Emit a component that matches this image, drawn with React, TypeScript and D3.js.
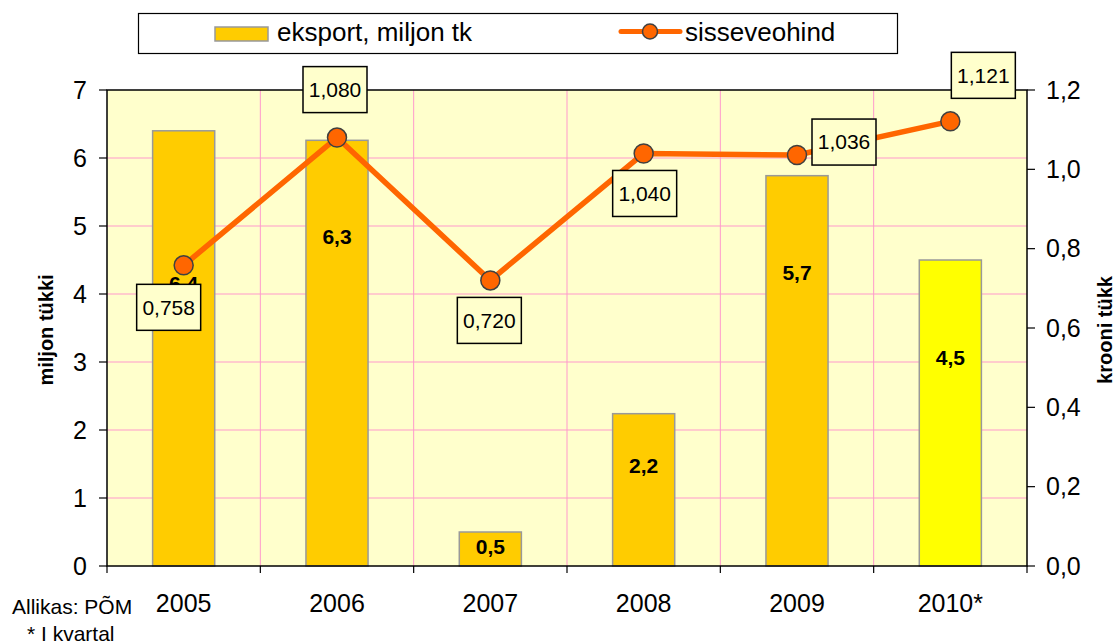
import React from "react";
import * as d3 from "d3";

const categories = ["2005", "2006", "2007", "2008", "2009", "2010*"];
const exportValues = [6.4, 6.26, 0.5, 2.24, 5.74, 4.5];
const exportLabels = ["6,4", "6,3", "0,5", "2,2", "5,7", "4,5"];
const exportLabelAt = [4.15, 4.85, 0.29, 1.47, 4.32, 3.07];
const priceValues = [0.758, 1.08, 0.72, 1.04, 1.036, 1.121];
const priceLabels = ["0,758", "1,080", "0,720", "1,040", "1,036", "1,121"];
const priceLabelOffsets: [number, number][] = [[-15, 42], [-2, -48], [-1, 40], [1, 40], [47, -13], [33, -46]];
const leftTicks = [0, 1, 2, 3, 4, 5, 6, 7];
const rightTicks = [0, 0.2, 0.4, 0.6, 0.8, 1.0, 1.2];

const W = 1116, H = 644;
const plot = { left: 107, right: 1027, top: 90, bottom: 566 };
const FONT = "'Liberation Sans', Arial, Helvetica, sans-serif";

export default function App() {
  const x = d3.scaleBand<string>().domain(categories).range([plot.left, plot.right]).paddingInner(0).paddingOuter(0);
  const yL = d3.scaleLinear().domain([0, 7]).range([plot.bottom, plot.top]);
  const yR = d3.scaleLinear().domain([0, 1.2]).range([plot.bottom, plot.top]);
  const bw = x.bandwidth() * 0.405;
  const cx = (c: string) => (x(c) as number) + x.bandwidth() / 2;
  const linePath = d3.line<number>().x((_, i) => cx(categories[i])).y((d) => yR(d))(priceValues) as string;
  const fmtR = (v: number) => v.toFixed(1).replace(".", ",");
  const boxW = 64, boxH = 46;

  return (
    <svg width={W} height={H} style={{ position: "absolute", left: 0, top: 0, background: "#fff" }} fontFamily={FONT}>
      {/* legend */}
      <rect x={138.5} y={13.5} width={759} height={40} fill="#fff" stroke="#000" strokeWidth={1.2} />
      <rect x={215} y={27} width={53} height={14} fill="#FFCC00" stroke="#999" strokeWidth={1.5} />
      <text x={277} y={41} fontSize={26} fill="#000">eksport, miljon tk</text>
      <line x1={621} x2={680} y1={31.5} y2={31.5} stroke="#FF6600" strokeWidth={5} strokeLinecap="round" />
      <circle cx={650} cy={31.5} r={7.5} fill="#FF6600" stroke="#404040" strokeWidth={1.5} />
      <text x={685} y={41} fontSize={26} fill="#000">sisseveohind</text>

      {/* plot background */}
      <rect x={plot.left} y={plot.top} width={plot.right - plot.left} height={plot.bottom - plot.top} fill="#FFFFCC" />
      {/* horizontal gridlines */}
      {leftTicks.filter((t) => t > 0 && t < 7).map((t) => (
        <line key={"hg" + t} x1={plot.left} x2={plot.right} y1={yL(t)} y2={yL(t)} stroke="#FF99CC" strokeWidth={1} />
      ))}
      {/* vertical gridlines */}
      {categories.slice(1).map((c) => (
        <line key={"vg" + c} x1={x(c) as number} x2={x(c) as number} y1={plot.top} y2={plot.bottom} stroke="#FF99CC" strokeWidth={1} />
      ))}

      {/* bars */}
      {categories.map((c, i) => (
        <rect key={"b" + c} x={cx(c) - bw / 2} y={yL(exportValues[i])} width={bw} height={plot.bottom - yL(exportValues[i])}
          fill={i === categories.length - 1 ? "#FFFF00" : "#FFCC00"} stroke="#999" strokeWidth={1.5} />
      ))}
      {categories.map((c, i) => (
        <text key={"bl" + c} x={cx(c)} y={yL(exportLabelAt[i])} dy="0.35em" textAnchor="middle" fontSize={21} fontWeight="bold" fill="#000">
          {exportLabels[i]}
        </text>
      ))}

      {/* plot border */}
      <rect x={plot.left} y={plot.top} width={plot.right - plot.left} height={plot.bottom - plot.top} fill="none" stroke="#000" strokeWidth={1.5} />

      {/* line */}
      <path d={linePath} fill="none" stroke="#FF6600" strokeWidth={5.5} strokeLinejoin="round" />
      {priceValues.map((v, i) => (
        <circle key={"m" + i} cx={cx(categories[i])} cy={yR(v)} r={9.5} fill="#FF6600" stroke="#404040" strokeWidth={1.5} />
      ))}
      {priceValues.map((v, i) => {
        const bx = cx(categories[i]) + priceLabelOffsets[i][0];
        const by = yR(v) + priceLabelOffsets[i][1];
        return (
          <g key={"pl" + i}>
            <rect x={bx - boxW / 2} y={by - boxH / 2} width={boxW} height={boxH} fill="#FFFFCC" stroke="#000" strokeWidth={1.5} />
            <text x={bx} y={by} dy="0.35em" textAnchor="middle" fontSize={21} fill="#000">{priceLabels[i]}</text>
          </g>
        );
      })}

      {/* left axis */}
      {leftTicks.map((t) => (
        <g key={"lt" + t}>
          <line x1={plot.left - 8} x2={plot.left} y1={yL(t)} y2={yL(t)} stroke="#000" strokeWidth={1.2} />
          <text x={plot.left - 20} y={yL(t)} dy="0.35em" textAnchor="end" fontSize={25} fill="#000">{t}</text>
        </g>
      ))}
      {/* right axis */}
      {rightTicks.map((t) => (
        <g key={"rt" + t}>
          <line x1={plot.right} x2={plot.right + 8} y1={yR(t)} y2={yR(t)} stroke="#000" strokeWidth={1.2} />
          <text x={plot.right + 19} y={yR(t)} dy="0.35em" textAnchor="start" fontSize={25} fill="#000">{fmtR(t)}</text>
        </g>
      ))}
      {/* x axis ticks */}
      {[...categories.map((c) => x(c) as number), plot.right].map((px, i) => (
        <line key={"xt" + i} x1={px} x2={px} y1={plot.bottom} y2={plot.bottom + 7} stroke="#000" strokeWidth={1.2} />
      ))}
      {categories.map((c) => (
        <text key={"xl" + c} x={cx(c)} y={612} textAnchor="middle" fontSize={25} fill="#000">{c}</text>
      ))}

      {/* axis titles */}
      <text transform={`translate(53,${(plot.top + plot.bottom) / 2 + 2}) rotate(-90)`} textAnchor="middle" fontSize={20} fontWeight="bold" fill="#000">miljon tükki</text>
      <text transform={`translate(1112,${(plot.top + plot.bottom) / 2 + 2}) rotate(-90)`} textAnchor="middle" fontSize={20} fontWeight="bold" fill="#000">krooni tükk</text>

      {/* notes */}
      <text x={12} y={614} fontSize={21} fill="#000">Allikas: PÕM</text>
      <text x={27} y={641} fontSize={21} fill="#000">* I kvartal</text>
    </svg>
  );
}
